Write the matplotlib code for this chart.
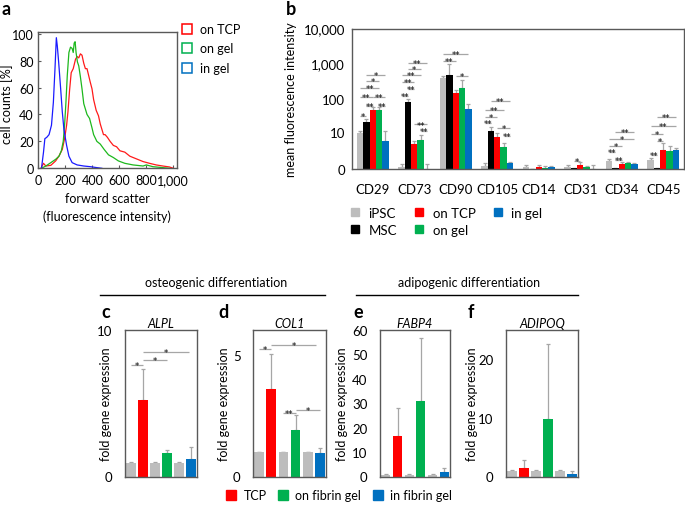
import numpy as np
import matplotlib
matplotlib.use("Agg")
import matplotlib.pyplot as plt
from matplotlib.lines import Line2D

W, H = 685, 506
plt.rcParams['font.family'] = ['Lato', 'DejaVu Sans']
plt.rcParams['font.size'] = 9

# ---- panel a : forward scatter histograms ----
tcp_x = [20, 39, 56, 93, 129, 154, 178, 195, 210, 220, 232, 244, 259, 276, 288, 300, 312, 324, 337, 349,
         361, 373, 385, 398, 410, 429, 446, 459, 471, 483, 495, 512, 532, 556, 580, 605, 641, 678, 727,
         776, 824, 873, 922, 971, 1000]
tcp_y = [0, 3.7, 1.7, 2.2, 5.5, 9.2, 14, 22, 32, 42, 58, 71, 74, 81, 83, 82, 85, 84, 78, 74,
         74, 69, 64, 59, 51, 43, 39, 33, 29, 25, 25, 23, 20, 17, 16, 13, 12, 9, 7,
         5, 3.7, 2.5, 1.7, 1, 0]
ongel_x = [24, 56, 93, 129, 154, 171, 185, 195, 205, 215, 227, 239, 251, 259, 266, 273, 280, 290, 300,
           312, 324, 337, 349, 361, 380, 398, 410, 434, 459, 488, 520, 556, 593, 641, 702, 776, 800,
           849, 922, 971]
ongel_y = [0, 1.7, 4.2, 6.7, 9, 13, 20, 32, 49, 69, 86, 90, 89, 86, 93, 94, 86, 79, 76,
           68, 59, 48, 44, 40, 37, 30, 25, 20, 18, 14, 10, 8, 5.5, 3.7, 2.5, 1.7, 2.5,
           1.2, 0.5, 0]
ingel_x = [24, 39, 49, 63, 80, 98, 112, 124, 134, 141, 151, 166, 178, 190, 210, 227, 251, 288, 337,
           385, 434, 471]
ingel_y = [0, 12, 22, 23, 25, 32, 49, 74, 97, 91, 79, 59, 42, 29, 17, 9, 4.2, 2.5, 1.7,
           1.2, 0.5, 0]
hist_labels = ['on TCP', 'on gel', 'in gel']

# ---- panel b : surface markers ----
markers = ['CD29', 'CD73', 'CD90', 'CD105', 'CD14', 'CD31', 'CD34', 'CD45']
groups_b = ['iPSC', 'MSC', 'on TCP', 'on gel', 'in gel']
ipsc_mean = [9.5, 0.16, 390, 0.24, 0.16, 0.12, 0.73, 0.84]
msc_mean = [20.7, 79, 462, 10.9, 0, 0.07, 0.05, 0.05]
tcp_mean = [48, 4.1, 144, 7.0, 0.16, 0.32, 0.39, 2.57]
ongel_mean = [48, 5.9, 202, 3.35, 0.07, 0.12, 0.51, 2.2]
ingel_mean = [5.4, 0, 50, 0.48, 0.14, 0, 0.42, 2.5]
ipsc_sd = [1.5, 0.23, 55, 0.24, 0.17, 0.21, 0.2, 0.22]
msc_sd = [5.3, 16, 490, 3.6, 0, 0, 0, 0]
tcp_sd = [11, 1.3, 36, 2.5, 0.17, 0.23, 0.16, 1.8]
ongel_sd = [8, 2.5, 130, 1.25, 0.13, 0.08, 0.12, 1.4]
ingel_sd = [5.6, 0.39, 21, 0.14, 0.11, 0.33, 0.09, 0.4]
# (marker index, bar i, bar j, line level, label)
sig_b = [(0, 0, 1, 31, '*'), (0, 1, 2, 63, '**'), (0, 3, 4, 63, '**'), (0, 0, 2, 110, '**'),
         (0, 2, 4, 110, '**'), (0, 0, 3, 200, '**'), (0, 1, 3, 320, '*'), (0, 1, 4, 480, '*'),
         (1, 0, 1, 119, '**'), (1, 1, 2, 185, '**'), (1, 0, 2, 300, '**'), (1, 0, 3, 460, '**'),
         (1, 1, 3, 720, '*'), (1, 1, 4, 1060, '**'), (1, 2, 4, 17.5, '**'), (1, 3, 4, 11, '**'),
         (2, 0, 2, 1190, '**'), (2, 0, 4, 1940, '**'), (2, 2, 4, 445, '*'),
         (3, 0, 1, 19.3, '**'), (3, 0, 2, 30, '*'), (3, 0, 3, 48, '**'), (3, 1, 4, 85, '**'),
         (3, 2, 4, 13.8, '*'), (3, 3, 4, 7.6, '**'),
         (5, 1, 2, 0.73, '*'),
         (6, 1, 2, 0.81, '**'), (6, 0, 1, 2.0, '**'), (6, 0, 2, 3.45, '*'), (6, 0, 4, 6.2, '*'),
         (6, 1, 4, 10.2, '**'),
         (7, 0, 1, 1.57, '**'), (7, 1, 2, 5.2, '*'), (7, 0, 2, 9, '*'), (7, 0, 4, 16, '**'),
         (7, 1, 4, 29, '**')]
b_ticks = [0, 10, 100, 1000, 10000]

# ---- panels c-f : differentiation ----
genes = ['ALPL', 'COL1', 'FABP4', 'ADIPOQ']
alpl_mean = [0.95, 5.23, 0.95, 1.6, 0.95, 1.2]
alpl_sd = [0.03, 2.1, 0.03, 0.2, 0.03, 0.8]
col1_mean = [1.0, 3.6, 1.0, 1.92, 1.0, 0.97]
col1_sd = [0.02, 1.45, 0.02, 0.6, 0.02, 0.21]
fabp4_mean = [0.8, 16.6, 0.8, 31, 0.8, 1.9]
fabp4_sd = [0.3, 11.6, 0.3, 25.6, 0.3, 1.7]
adipoq_mean = [1.0, 1.37, 1.0, 9.8, 1.0, 0.35]
adipoq_sd = [0.05, 1.5, 0.05, 12.8, 0.05, 0.55]
sig_c = [(0, 1, 7.6, '*'), (1, 3, 7.96, '*'), (1, 4.8, 8.5, '*')]
sig_d = [(0, 1, 5.23, '*'), (1, 4.7, 5.43, '*'), (2, 3, 2.62, '**'), (3, 5, 2.73, '*')]
sig_e = []
sig_f = []
diff_labels = ['TCP', 'on fibrin gel', 'in fibrin gel']

GRAY = '#BDBDBD'
RED = '#FF0000'
GREEN = '#00B050'
BLUE = '#0070C0'
ERR = '#A6A6A6'
SPINE = '#595959'
FS = 9


def px_axes(fig, left, right, top, bottom):
    return fig.add_axes([left / W, 1 - bottom / H, (right - left) / W, (bottom - top) / H])


def ftext(fig, x, y, s, **kw):
    fig.text(x / W, 1 - y / H, s, **kw)


def box(ax):
    for sp in ax.spines.values():
        sp.set_color(SPINE)
        sp.set_linewidth(1)


def star(ax, x0, x1, lev, lab):
    ax.plot([x0, x1], [lev, lev], color=ERR, lw=0.9, solid_capstyle='butt')
    ax.annotate(lab, ((x0 + x1) / 2, lev), xytext=(0, -2.2), textcoords='offset points',
                ha='center', va='baseline', fontsize=6.2, family='DejaVu Sans')


fig = plt.figure(figsize=(W / 100, H / 100), dpi=100)

# panel a
ax = px_axes(fig, 37.7, 176.7, 33.3, 169.3)
ax.plot(tcp_x, tcp_y, color='#FF1A1A', lw=0.9)
ax.plot(ongel_x, ongel_y, color='#1DB81D', lw=0.9)
ax.plot(ingel_x, ingel_y, color='#1A1AFF', lw=0.9)
ax.set_xlim(-4, 1025)
ax.set_ylim(0, 101)
ax.set_xticks([0, 200, 400, 600, 800, 1000])
ax.set_xticklabels(['0', '200', '400', '600', '800', '1,000'])
ax.set_yticks([0, 20, 40, 60, 80, 100])
ax.tick_params(direction='in', length=2.5, labelsize=FS, color=SPINE)
ax.tick_params(axis='y', pad=3)
ax.tick_params(axis='x', pad=4)
box(ax)
ax.set_ylabel('cell counts [%]', fontsize=FS)
# ylabel anchor is its right edge
ax.yaxis.set_label_coords((13 - 37.7) / 139, 0.48)
ftext(fig, 107, 203, 'forward scatter', ha='center', va='baseline', fontsize=FS)
ftext(fig, 107, 221, '(fluorescence intensity)', ha='center', va='baseline', fontsize=FS)
ha_handles = [Line2D([], [], ls='', marker='s', ms=7, mfc='none', mec=c, mew=1.1)
              for c in [RED, GREEN, BLUE]]
fig.legend(ha_handles, hist_labels, loc='upper left', bbox_to_anchor=(181 / W, 1 - 24 / H),
           frameon=False, fontsize=FS, handlelength=1.0, handletextpad=0.5, labelspacing=0.6,
           borderaxespad=0, borderpad=0)
ftext(fig, 1, 15, 'a', fontsize=13, fontweight='bold', va='baseline')

# panel b
ax = px_axes(fig, 352, 684, 29.5, 170)
fwd = lambda v: np.log10(np.clip(v, 0, None) + 1)
inv = lambda v: 10 ** v - 1
ax.set_yscale('function', functions=(fwd, inv))
xb = np.arange(len(markers))
bw = 0.152
means_b = [ipsc_mean, msc_mean, tcp_mean, ongel_mean, ingel_mean]
sds_b = [ipsc_sd, msc_sd, tcp_sd, ongel_sd, ingel_sd]
cols_b = [GRAY, 'black', RED, GREEN, BLUE]
offs = [(k - 2) * bw for k in range(5)]
for k in range(5):
    m = np.array(means_b[k])
    s = np.array(sds_b[k])
    ax.bar(xb + offs[k], m, bw, color=cols_b[k], label=groups_b[k], zorder=2)
    ax.errorbar(xb + offs[k], m, yerr=[np.zeros_like(s), s], fmt='none', ecolor=ERR,
                elinewidth=0.9, capsize=1.2, capthick=0.9, zorder=1)
for g, i, j, lev, lab in sig_b:
    star(ax, g + offs[i], g + offs[j], lev, lab)
ax.set_xlim(-0.5, 7.5)
ax.set_ylim(0, 10000)
ax.set_yticks(b_ticks)
ax.set_yticklabels(['0', '10', '100', '1,000', '10,000'])
ax.yaxis.set_minor_locator(matplotlib.ticker.NullLocator())
ax.set_xticks(xb)
ax.set_xticklabels(markers)
ax.tick_params(length=0, labelsize=FS + 0.5)
ax.tick_params(axis='x', pad=10)
ax.tick_params(axis='y', pad=5)
box(ax)
ax.set_ylabel('mean fluorescence intensity', fontsize=FS)
ax.yaxis.set_label_coords((297 - 352) / 332, 0.5)
hb = [Line2D([], [], ls='', marker='s', ms=5.5, mfc=c, mec=c) for c in cols_b]
fig.legend(hb, groups_b, loc='upper left', bbox_to_anchor=(350 / W, 1 - 208 / H), ncol=3,
           frameon=False, fontsize=FS + 0.5, handlelength=0.8, handletextpad=0.6, columnspacing=1.3,
           labelspacing=0.35, borderaxespad=0, borderpad=0)
ftext(fig, 286, 15, 'b', fontsize=13, fontweight='bold', va='baseline')

# panels c-f
diff_cols = [GRAY, RED, GRAY, GREEN, GRAY, BLUE]
panels = [
    (125, 197, alpl_mean, alpl_sd, (0, 10), [0, 10], sig_c, 'c', 101, 106),
    (253, 326, col1_mean, col1_sd, (0, 6.03), [0, 5], sig_d, 'd', 218, 224),
    (380, 450, fabp4_mean, fabp4_sd, (0, 60), [0, 10, 20, 30, 40, 50, 60], sig_e, 'e', 353, 342),
    (506, 578, adipoq_mean, adipoq_sd, (0, 25), [0, 10, 20], sig_f, 'f', 468, 472),
]
xd = np.arange(6)
for (l, r, m, s, yl, yt, sg, letter, lx, ylx), gene in zip(panels, genes):
    ax = px_axes(fig, l, r, 331, 477.5)
    m = np.array(m)
    s = np.array(s)
    ax.bar(xd, m, 0.8, color=diff_cols, zorder=2)
    ax.errorbar(xd, m, yerr=[np.zeros_like(s), s], fmt='none', ecolor=ERR, elinewidth=0.9,
                capsize=1.2, capthick=0.9, zorder=1)
    for i, j, lev, lab in sg:
        star(ax, i, j, lev, lab)
    ax.set_xlim(-0.5, 5.5)
    ax.set_ylim(*yl)
    ax.set_yticks(yt)
    ax.set_xticks([])
    ax.tick_params(length=0, labelsize=FS + 0.5, pad=9)
    box(ax)
    ax.set_ylabel('fold gene expression', fontsize=FS)
    ax.yaxis.set_label_coords((ylx + 6 - l) / (r - l), 0.5)
    ftext(fig, (l + r) / 2, 328, gene, ha='center', va='baseline', fontsize=FS, style='italic')
    ftext(fig, lx, 318, letter, fontsize=13, fontweight='bold', va='baseline')

# section headers
ftext(fig, 216, 287, 'osteogenic differentiation', ha='center', va='baseline', fontsize=FS)
ftext(fig, 469, 287, 'adipogenic differentiation', ha='center', va='baseline', fontsize=FS)
fig.add_artist(Line2D([100 / W, 325 / W], [1 - 296 / H] * 2, color='black', lw=1))
fig.add_artist(Line2D([356 / W, 578 / W], [1 - 296 / H] * 2, color='black', lw=1))

hd = [Line2D([], [], ls='', marker='s', ms=6.5, mfc=c, mec=c) for c in [RED, GREEN, BLUE]]
fig.legend(hd, diff_labels, loc='upper left', bbox_to_anchor=(226 / W, 1 - 490 / H), ncol=3,
           frameon=False, fontsize=FS, handlelength=0.8, handletextpad=0.6, columnspacing=0.9,
           borderaxespad=0, borderpad=0)

fig.savefig('out.png', dpi=100)
